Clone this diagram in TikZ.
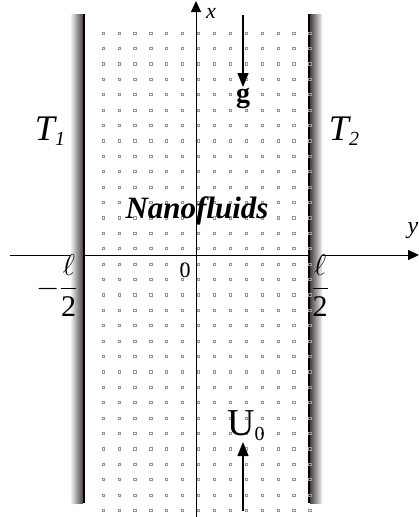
\RequirePackage{fix-cm}
\documentclass[tikz,border=0pt]{standalone}
\usepackage{amsmath}
\usepackage{fontspec}
\setmainfont{Liberation Serif}
\usepackage{xcolor}
\usepackage{tikz}
\usetikzlibrary{arrows.meta, positioning}
\definecolor{walldark}{RGB}{75, 65, 65}
\definecolor{walllight}{RGB}{238, 238, 238}
\definecolor{dotgray}{RGB}{150, 150, 150}

\newcommand{\lowsub}[1]{\raisebox{-5pt}{\fontsize{20}{20}\selectfont #1}}

\begin{document}
\begin{tikzpicture}[
    x=1pt, y=-1pt,
    axis/.style={line width=0.9pt, -{Triangle[length=11pt, width=10pt]}},
    force/.style={line width=1.3pt, -{Triangle[length=14pt, width=11pt]}},
    dotbox/.style={draw=dotgray, line width=0.45pt},
    lbl/.style={inner sep=1pt},
]
    \useasboundingbox (0,0) rectangle (419,517);

    % Axes
    \coordinate (yleft) at (10,255);
    \coordinate (yright) at (419,255);
    \coordinate (xbot) at (196,517);
    \coordinate (xtop) at (196,1);
    \draw[axis] (yleft) -- (yright);
    \draw[axis] (xbot) -- (xtop);

    % Walls (heated plates)
    \shade[left color=walllight, right color=walldark] (71,14) rectangle (83,503);
    \draw[line width=2pt] (84,14) -- (84,503);
    \shade[left color=walldark, right color=walllight] (310,14) rectangle (322,503);
    \draw[line width=2pt] (309,14) -- (309,503);

    % Nanoparticles
    \foreach \i in {0,...,13}
        \foreach \j in {0,...,31}
            \draw[dotbox] ({103+15.9*\i},{33+15.4*\j}) ++(-1.1,-1.1) rectangle ++(2.2,2.2);

    % Axis labels
    \node[lbl, font=\fontsize{22}{26}\selectfont\itshape] (xlbl) at (211,13) {x};
    \node[lbl, font=\fontsize{24}{28}\selectfont\itshape] (ylbl) at (413,231) {y};
    \node[lbl, font=\fontsize{22}{26}\selectfont] (orig) at (185,270) {0};
    \node[lbl, font=\fontsize{30}{36}\selectfont] (lwall) at (57,286) {$-\dfrac{\ell}{\mbox{2}}$};
    \node[lbl, font=\fontsize{30}{36}\selectfont] (rwall) at (320,286) {$\dfrac{\ell}{\mbox{2}}$};

    % Temperatures
    \node[lbl, font=\fontsize{36}{40}\selectfont\itshape] (T1) at (50,131) {T\lowsub{1}};
    \node[lbl, font=\fontsize{36}{40}\selectfont\itshape] (T2) at (344,131) {T\lowsub{2}};

    \node[lbl, font=\fontsize{31}{36}\selectfont\bfseries\itshape] (fluid) at (197,211) {Nanofluids};

    % Gravity and inlet velocity
    \coordinate (gtail) at (243,15);
    \node[lbl, anchor=north, font=\fontsize{28}{32}\selectfont\bfseries] (gvec) at (243,87) {g};
    \draw[force] (gtail) -- (gtail |- gvec.north);

    \coordinate (utail) at (243,511);
    \node[lbl, anchor=south, font=\fontsize{38}{42}\selectfont] (U0) at (246,442) {U\lowsub{0}};
    \draw[force] (utail) -- (utail |- U0.south);
\end{tikzpicture}
\end{document}
